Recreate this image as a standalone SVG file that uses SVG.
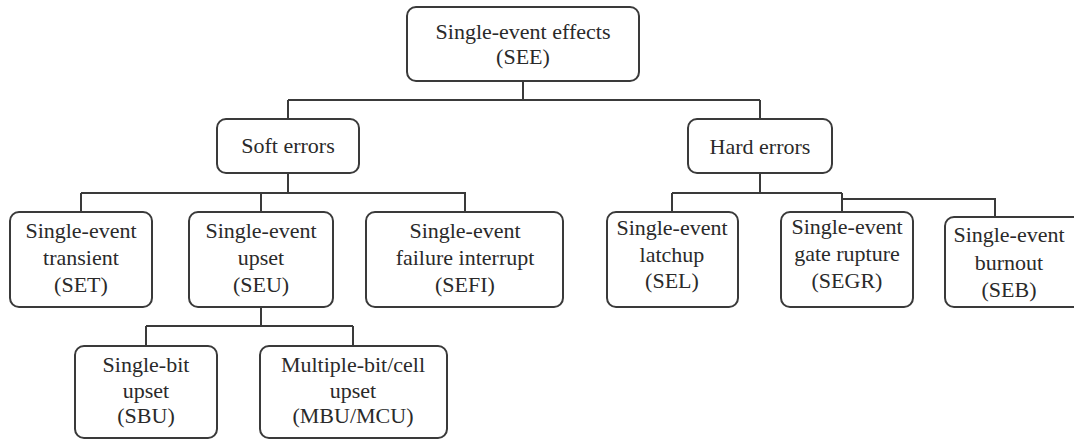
<svg xmlns="http://www.w3.org/2000/svg" width="1074" height="440" viewBox="0 0 1074 440">
<style>
.box{fill:#fff;stroke:#3a3a3a;stroke-width:2}
.lnk{fill:none;stroke:#3a3a3a;stroke-width:2}
.t{font-family:"Liberation Serif",serif;font-size:22px;fill:#2a2a2a;text-anchor:middle}
</style>
<rect width="1074" height="440" fill="#fff"/>
<g id="connectors">
<path class="lnk" d="M523 81V100M288 100H760M288 100V119M760 100V119"/>
<path class="lnk" d="M288 173V193M81 193H288M81 193V212M261 193V212M288 193H465V212"/>
<path class="lnk" d="M760 173V193M672 193H842M672 193V212M842 193V212M842 199H995V217"/>
<path class="lnk" d="M261 307V326M146 326H353M146 326V346M353 326V346"/>
</g>
<g id="see"><rect class="box" x="407" y="7" width="232" height="74" rx="9"/><text class="t" x="523" y="39">Single-event effects</text><text class="t" x="523" y="64">(SEE)</text></g>
<g id="soft"><rect class="box" x="217" y="119" width="142" height="54" rx="9"/><text class="t" x="288" y="153">Soft errors</text></g>
<g id="hard"><rect class="box" x="688" y="119" width="144" height="54" rx="9"/><text class="t" x="760" y="154">Hard errors</text></g>
<g id="set"><rect class="box" x="10" y="212" width="142" height="95" rx="9"/><text class="t" x="81" y="238">Single-event</text><text class="t" x="81" y="265">transient</text><text class="t" x="81" y="292">(SET)</text></g>
<g id="seu"><rect class="box" x="189" y="212" width="144" height="95" rx="9"/><text class="t" x="261" y="238">Single-event</text><text class="t" x="261" y="265">upset</text><text class="t" x="261" y="292">(SEU)</text></g>
<g id="sefi"><rect class="box" x="366" y="212" width="197" height="95" rx="9"/><text class="t" x="465" y="238">Single-event</text><text class="t" x="465" y="265">failure interrupt</text><text class="t" x="465" y="292">(SEFI)</text></g>
<g id="sel"><rect class="box" x="607" y="212" width="131" height="95" rx="9"/><text class="t" x="672" y="235">Single-event</text><text class="t" x="672" y="262">latchup</text><text class="t" x="672" y="288">(SEL)</text></g>
<g id="segr"><rect class="box" x="781" y="212" width="132" height="95" rx="9"/><text class="t" x="847" y="234">Single-event</text><text class="t" x="847" y="261">gate rupture</text><text class="t" x="847" y="288">(SEGR)</text></g>
<g id="seb"><rect class="box" x="945" y="217" width="140" height="90" rx="9"/><text class="t" x="1009" y="242">Single-event</text><text class="t" x="1009" y="270">burnout</text><text class="t" x="1009" y="297">(SEB)</text></g>
<g id="sbu"><rect class="box" x="75" y="346" width="142" height="92" rx="9"/><text class="t" x="146" y="372">Single-bit</text><text class="t" x="146" y="398">upset</text><text class="t" x="146" y="423">(SBU)</text></g>
<g id="mbu"><rect class="box" x="260" y="346" width="187" height="92" rx="9"/><text class="t" x="353" y="372">Multiple-bit/cell</text><text class="t" x="353" y="398">upset</text><text class="t" x="353" y="423">(MBU/MCU)</text></g>
</svg>
